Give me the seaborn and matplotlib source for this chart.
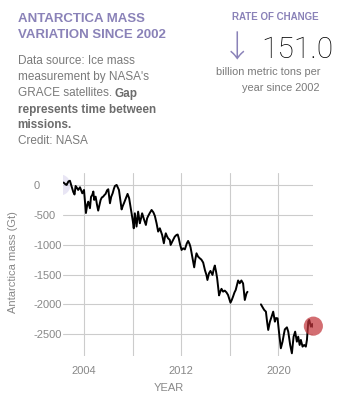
import matplotlib
matplotlib.use("Agg")
import matplotlib.pyplot as plt
import numpy as np
import pandas as pd
import seaborn as sns

# GRACE mission (2002-2017) monthly Antarctic mass anomaly, Gt
grace_year = [2002.30, 2002.45, 2002.55, 2002.70, 2002.82, 2002.96, 2003.10, 2003.20,
              2003.29, 2003.40, 2003.50, 2003.65, 2003.84, 2003.98, 2004.14, 2004.25,
              2004.33, 2004.47, 2004.56, 2004.66, 2004.75, 2004.82, 2004.94, 2005.05,
              2005.15, 2005.35, 2005.45, 2005.56, 2005.66, 2005.76, 2005.88, 2005.98,
              2006.12, 2006.22, 2006.34, 2006.45, 2006.53, 2006.67, 2006.76, 2006.86,
              2006.97, 2007.08, 2007.18, 2007.27, 2007.43, 2007.57, 2007.70, 2007.84,
              2008.00, 2008.08, 2008.17, 2008.31, 2008.44, 2008.58, 2008.68, 2008.77,
              2008.94, 2009.08, 2009.18, 2009.27, 2009.40, 2009.55, 2009.70, 2009.82,
              2009.96, 2010.09, 2010.23, 2010.32, 2010.42, 2010.56, 2010.64, 2010.72,
              2010.82, 2010.91, 2011.05, 2011.12, 2011.25, 2011.46, 2011.60, 2011.70,
              2011.79, 2011.90, 2012.02, 2012.15, 2012.29, 2012.45, 2012.56, 2012.68,
              2012.76, 2012.90, 2013.06, 2013.15, 2013.25, 2013.38, 2013.52, 2013.65,
              2013.80, 2013.95, 2014.07, 2014.15, 2014.28, 2014.40, 2014.50, 2014.57,
              2014.68, 2014.76, 2014.86, 2014.95, 2015.11, 2015.20, 2015.31, 2015.44,
              2015.58, 2015.72, 2015.85, 2016.05, 2016.15, 2016.26, 2016.38, 2016.48,
              2016.58, 2016.68, 2016.81, 2016.95, 2017.09, 2017.23, 2017.37, 2017.45]
grace_mass = [40, 10, 0, 60, 70, -28, -120, -160,
              -17, -50, -84, -39, -140, -84, -470, -330,
              -280, -390, -200, -168, -110, -251, -196, -330,
              -430, -251, -210, -196, -170, -150, -90, -72,
              -307, -200, -140, -60, -17, 0, -40, -84,
              -250, -410, -350, -307, -223, -150, -223, -400,
              -600, -726, -475, -697, -447, -642, -560, -475,
              -586, -670, -560, -520, -470, -419, -460, -520,
              -642, -781, -726, -780, -838, -977, -880, -810,
              -860, -894, -921, -1005, -950, -866, -838, -830,
              -894, -1000, -1089, -1061, -1080, -980, -938, -990,
              -1044, -1200, -1380, -1250, -1145, -1200, -1228, -1250,
              -1300, -1430, -1508, -1592, -1480, -1440, -1480, -1508,
              -1400, -1350, -1450, -1560, -1850, -1790, -1740, -1787,
              -1770, -1800, -1843, -1972, -1930, -1871, -1800, -1760,
              -1680, -1600, -1647, -1600, -1650, -1927, -1815, -1790]

# GRACE Follow-On mission (2018 onward)
fo_year = [2018.56, 2018.70, 2018.83, 2018.97, 2019.06, 2019.16, 2019.30, 2019.44,
           2019.57, 2019.71, 2019.80, 2019.93, 2020.06, 2020.20, 2020.34, 2020.45,
           2020.53, 2020.70, 2020.81, 2020.97, 2021.11, 2021.25, 2021.38, 2021.52,
           2021.63, 2021.75, 2021.85, 2021.99, 2022.12, 2022.26, 2022.35, 2022.46,
           2022.54, 2022.68, 2022.79, 2022.88]
fo_mass = [-2000, -2050, -2094, -2122, -2280, -2429, -2290, -2206,
           -2122, -2290, -2230, -2234, -2485, -2736, -2625, -2500,
           -2419, -2385, -2457, -2680, -2820, -2541, -2457, -2625,
           -2541, -2680, -2596, -2708, -2680, -2708, -2596, -2290,
           -2262, -2374, -2329, -2385]

y_ticks = [0, -500, -1000, -1500, -2000, -2500]
x_ticks = [2004, 2008, 2012, 2016, 2020]
x_tick_labels = ["2004", "", "2012", "", "2020"]

rate = 151.0

df = pd.DataFrame({
    "year": grace_year + fo_year,
    "mass": grace_mass + fo_mass,
    "mission": ["GRACE"] * len(grace_year) + ["GRACE-FO"] * len(fo_year),
})

sns.set_theme(style="white")
plt.rcParams["font.family"] = ["Liberation Sans", "DejaVu Sans"]

W, H = 340, 400
fig = plt.figure(figsize=(W / 100, H / 100), dpi=100)
fig.patch.set_facecolor("white")

ax = fig.add_axes([63 / W, 1 - 356 / H, 250 / W, 183 / H])
sns.lineplot(data=df, x="year", y="mass", units="mission", estimator=None,
             color="black", linewidth=1.4, ax=ax, zorder=3)

# soft marker at the start of the record, highlighted marker at the latest value
ax.scatter([grace_year[0] - 0.3], [grace_mass[0] - 40], s=230, color="#d9d5ee",
           alpha=0.6, edgecolor="none", zorder=2)
ax.scatter([fo_year[-1]], [fo_mass[-1] + 20], s=190, color="#c2363c", alpha=0.72,
           edgecolor="none", zorder=4, clip_on=False)

ax.set_xlim(2002.25, 2022.85)
ax.set_ylim(-2865, 200)
ax.set_xticks(x_ticks)
ax.set_xticklabels(x_tick_labels)
ax.set_yticks(y_ticks)
ax.set_yticklabels([str(v) for v in y_ticks])
for lab in ax.get_yticklabels():
    lab.set_horizontalalignment("left")

ax.grid(True, color="#cccccc", linewidth=0.8)
for s in ax.spines.values():
    s.set_visible(False)
ax.tick_params(axis="both", length=0, labelsize=8, labelcolor="#888888")
ax.tick_params(axis="y", pad=21)
ax.tick_params(axis="x", pad=7)

ax.set_xlabel("YEAR", fontsize=8, color="#888888")
ax.set_ylabel("Antarctica mass (Gt)", fontsize=8, color="#888888")
ax.xaxis.set_label_coords(0.422, -0.15)
ax.yaxis.set_label_coords(-0.18, 0.514)

lavender = "#8a82b8"
gray = "#7a7a7a"


def put(x, y, s, **kw):
    return fig.text(x / W, 1 - y / H, s, va="baseline", **kw)


put(18, 21.7, "ANTARCTICA MASS", fontsize=9.5, fontweight="bold", color=lavender)
put(18, 37.5, "VARIATION SINCE 2002", fontsize=9.5, fontweight="bold", color=lavender)

put(17.5, 64.3, "Data source: Ice mass", fontsize=8.5, color=gray)
put(17.5, 80.3, "measurement by NASA's", fontsize=8.5, color=gray)
t = put(17.5, 96.5, "GRACE satellites.", fontsize=8.5, color=gray)
fig.canvas.draw()
bb = t.get_window_extent(fig.canvas.get_renderer())
put(bb.x1 + 3.3, 96.5, "Gap", fontsize=8.5, fontweight="bold", color="#6c6c6c")
put(17.5, 112.5, "represents time between", fontsize=8.5, fontweight="bold", color="#6c6c6c")
put(17.5, 128.3, "missions.", fontsize=8.5, fontweight="bold", color="#6c6c6c")
put(17.5, 143.5, "Credit: NASA", fontsize=8.5, color=gray)

put(275, 20, "RATE OF CHANGE", fontsize=7, fontweight="bold", color=lavender, ha="center")
put(237.5, 57.5, "\u2193", fontsize=22, color=lavender, ha="center",
    family=["Noto Sans CJK JP", "DejaVu Sans"], fontweight="light")
put(333, 58.3, f"{rate:.1f}", fontsize=21.5, color="black", ha="right",
    family=["Roboto", "DejaVu Sans"], fontweight="light")
put(320, 75, "billion metric tons per", fontsize=7.9, color=gray, ha="right")
put(320, 90.7, "year since 2002", fontsize=7.9, color=gray, ha="right")

fig.savefig("out.png", dpi=100, facecolor="white")
